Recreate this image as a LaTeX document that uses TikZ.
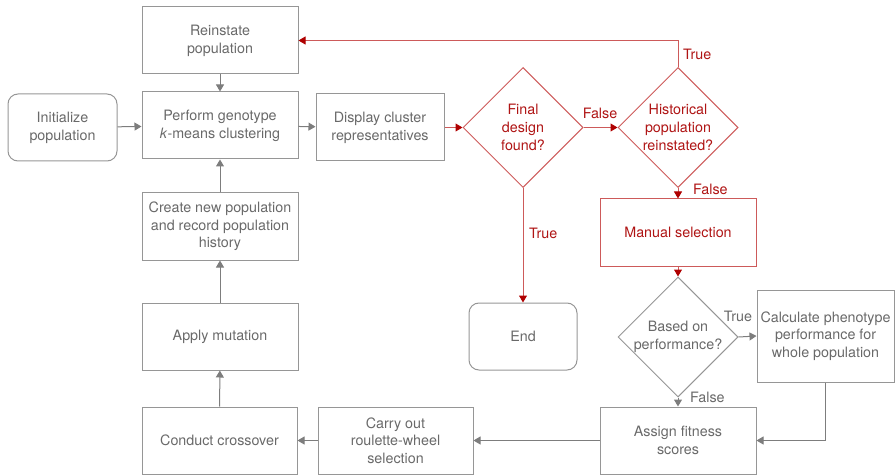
\documentclass[tikz,border=0pt]{standalone}
\usepackage{fontspec}
\setmainfont{TeX Gyre Heros}
\usetikzlibrary{shapes.geometric,arrows.meta}
\definecolor{tgray}{RGB}{105,105,105}
\definecolor{lgray}{RGB}{125,125,125}
\definecolor{bgray}{RGB}{150,150,150}
\definecolor{tred}{RGB}{175,20,20}
\definecolor{lred}{RGB}{205,90,90}
\definecolor{ared}{RGB}{175,0,0}
\tikzset{
  base/.style={font=\fontsize{14.3}{17.7}\selectfont, align=center, inner sep=2pt},
  box/.style={base, draw=bgray, line width=1pt, text=tgray, minimum width=156pt, minimum height=67pt},
  rbox/.style={box, rounded corners=10pt},
  redbox/.style={base, draw=lred, line width=1pt, text=tred, minimum width=156pt, minimum height=67pt},
  dia/.style={diamond, aspect=1, draw=lred, line width=1pt, minimum width=120pt, minimum height=120pt, inner sep=0pt},
  gdia/.style={dia, draw=bgray},
  rtxt/.style={base, text=tred},
  gtxt/.style={base, text=tgray},
  garr/.style={draw=lgray, line width=1pt, -{Triangle[length=7pt,width=8pt,fill=lgray]}},
  rarr/.style={draw=lred, line width=1pt, -{Triangle[length=7pt,width=8pt,fill=ared,color=ared]}},
}
\begin{document}
\begin{tikzpicture}[x=1pt,y=-1pt]
\useasboundingbox (0,0) rectangle (895,476);
% nodes
\node[box] (rein) at (220,40.5) {Reinstate\\population};
\node[box] (perf) at (220,125.5) {Perform genotype\\\textit{k}-means clustering};
\node[rbox, minimum width=109pt] (init) at (62.5,127.5) {Initialize\\population};
\node[box, minimum width=128pt] (disp) at (380,127.5) {Display cluster\\representatives};
\node[box] (create) at (220,226.5) {Create new population\\and record population\\history};
\node[box] (mut) at (220,336.5) {Apply mutation};
\node[box, minimum width=155pt] (cross) at (219.5,440.5) {Conduct crossover};
\node[box, minimum width=155pt] (carry) at (395.5,440.5) {Carry out\\roulette-wheel\\selection};
\node[box] (assign) at (678,440.5) {Assign fitness\\scores};
\node[box, minimum width=137pt, minimum height=92pt] (calc) at (825.5,336) {Calculate phenotype\\performance for\\whole population};
\node[rbox, minimum width=108pt] (end) at (523,336.5) {End};
\node[redbox] (man) at (678,232.5) {Manual selection};
\node[dia] (final) at (523,127.5) {};
\node[rtxt] (finalT) at (final) {Final\\design\\found?};
\node[dia] (hist) at (678,127.5) {};
\node[rtxt] (histT) at (hist) {Historical\\population\\reinstated?};
\node[gdia] (based) at (678,337) {};
\node[gtxt] (basedT) at (based) {Based on\\performance?};
% connectors gray
\draw[garr] (init) -- (perf);
\draw[garr] (rein) -- (perf);
\draw[garr] (create) -- (perf);
\draw[garr] (mut) -- (create);
\draw[garr] (cross) -- (mut);
\draw[garr] (carry) -- (cross);
\draw[garr] (assign) -- (carry);
\draw[garr] (calc.south) |- (assign.east);
\draw[garr] (based.east) -- (calc.west);
\draw[garr] (based.south) -- (assign.north);
\draw[garr] (perf) -- (disp);
% connectors red
\draw[rarr] (disp.east) -- (final.west);
\draw[rarr] (final.east) -- (hist.west);
\draw[rarr] (final.south) -- (end.north);
\draw[rarr] (hist.south) -- (man.north);
\draw[rarr] (man.south) -- (based.north);
\draw[rarr] (hist.north) |- (rein.east);
% labels
\node[rtxt, anchor=west] (l1) at (681,54) {True};
\node[rtxt] (l2) at (600,113) {False};
\node[rtxt, anchor=west] (l3) at (691,189) {False};
\node[rtxt, anchor=west] (l4) at (527,233) {True};
\node[gtxt] (l5) at (738,316) {True};
\node[gtxt, anchor=west] (l6) at (688,397) {False};
\end{tikzpicture}
\end{document}
